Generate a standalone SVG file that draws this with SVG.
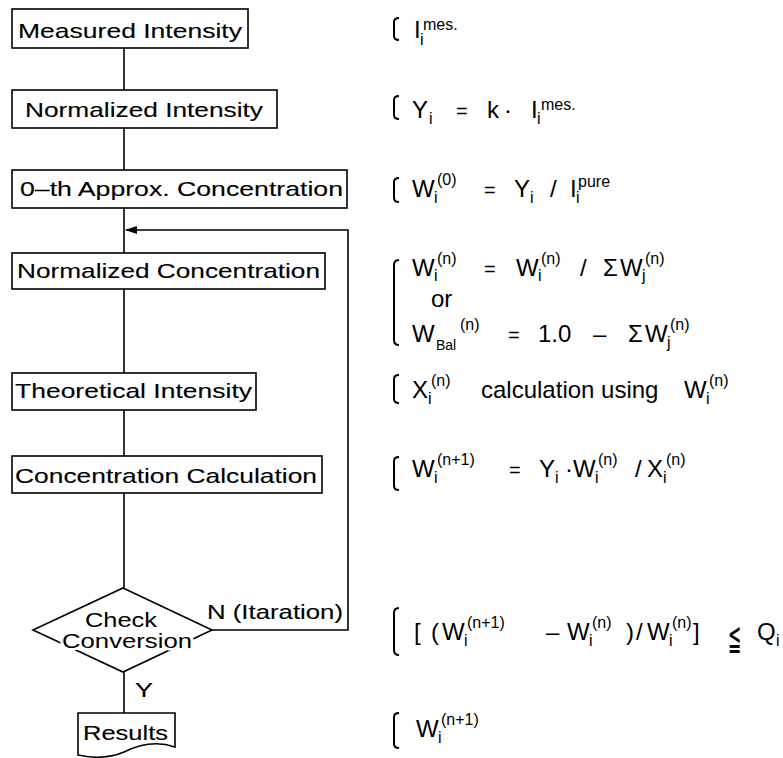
<svg xmlns="http://www.w3.org/2000/svg" width="783" height="758" viewBox="0 0 783 758">
<defs>
<style>
.box{fill:#fff;stroke:#000;stroke-width:1.6}
.ln{fill:none;stroke:#000;stroke-width:1.6}
.br{fill:none;stroke:#000;stroke-width:2}
.b{font-family:"Liberation Sans",Arial,sans-serif;font-size:21px;fill:#000;stroke:#000;stroke-width:0.12px}
.halo{paint-order:stroke;stroke:#fff;stroke-width:5px}
.m{font-family:"Liberation Sans",Arial,sans-serif;font-size:24px;fill:#000}
.s{font-size:16px}
.q{font-size:20px}
</style>
<marker id="arr" markerWidth="12" markerHeight="8" refX="11" refY="4" orient="auto" markerUnits="userSpaceOnUse">
<path d="M0,0 L12,4 L0,8 Z" fill="#000"/>
</marker>
</defs>
<rect width="783" height="758" fill="#fff"/>

<g id="connectors">
<path class="ln" d="M124,48 V90"/>
<path class="ln" d="M124,128 V170"/>
<path class="ln" d="M124,208 V253"/>
<path class="ln" d="M124,289 V373"/>
<path class="ln" d="M124,410 V456"/>
<path class="ln" d="M124,493 V588"/>
<path class="ln" d="M124,672 V713"/>
<path class="ln" d="M212,630 H348 V230 H126" marker-end="url(#arr)"/>
<text class="b" x="207" y="619" textLength="136" lengthAdjust="spacingAndGlyphs">N (Itaration)</text>
<text class="b" x="135" y="697" textLength="18" lengthAdjust="spacingAndGlyphs">Y</text>
</g>

<g id="measured-intensity">
<rect class="box" x="12" y="9" width="236" height="39"/>
<text class="b" x="18" y="38" textLength="224" lengthAdjust="spacingAndGlyphs">Measured Intensity</text>
</g>
<g id="normalized-intensity">
<rect class="box" x="12" y="90" width="265" height="38"/>
<text class="b" x="25" y="117" textLength="238" lengthAdjust="spacingAndGlyphs">Normalized Intensity</text>
</g>
<g id="approx-concentration">
<rect class="box" x="12" y="170" width="335" height="38"/>
<text class="b" x="20" y="196" textLength="323" lengthAdjust="spacingAndGlyphs">0–th Approx. Concentration</text>
</g>
<g id="normalized-concentration">
<rect class="box" x="12" y="253" width="313" height="36"/>
<text class="b" x="17" y="278" textLength="303" lengthAdjust="spacingAndGlyphs">Normalized Concentration</text>
</g>
<g id="theoretical-intensity">
<rect class="box" x="12" y="373" width="244" height="37"/>
<text class="b" x="15" y="398" textLength="237" lengthAdjust="spacingAndGlyphs">Theoretical Intensity</text>
</g>
<g id="concentration-calculation">
<rect class="box" x="12" y="456" width="310" height="37"/>
<text class="b" x="15" y="483" textLength="302" lengthAdjust="spacingAndGlyphs">Concentration Calculation</text>
</g>
<g id="check-conversion">
<path class="box" d="M123,588 L212,630 L123,672 L33,630 Z"/>
<text class="b halo" x="85" y="627" textLength="72" lengthAdjust="spacingAndGlyphs">Check</text>
<text class="b halo" x="62" y="648" textLength="130" lengthAdjust="spacingAndGlyphs">Conversion</text>
</g>
<g id="results">
<path class="box" d="M78,713 H175 V747 C158,741 140,744 124,752 C108,759 92,758 78,755 Z"/>
<text class="b" x="83" y="740" textLength="85" lengthAdjust="spacingAndGlyphs">Results</text>
</g>

<g id="formulas">
<path class="br" d="M399,18 Q394,18 394,22 V36 Q394,40 399,40"/>
<path class="br" d="M399,96 Q394,96 394,100 V115 Q394,119 399,119"/>
<path class="br" d="M399,178 Q394,178 394,182 V198 Q394,202 399,202"/>
<path class="br" d="M399,260 Q394,260 394,265 V340 Q394,345 399,345"/>
<path class="br" d="M399,375 Q394,375 394,379 V399 Q394,403 399,403"/>
<path class="br" d="M399,457 Q394,457 394,461 V486 Q394,490 399,490"/>
<path class="br" d="M399,608 Q394,608 394,613 V650 Q394,655 399,655"/>
<path class="br" d="M399,713 Q394,713 394,717 V744 Q394,748 399,748"/>

<text class="m"><tspan x="414" y="38">I</tspan><tspan class="s" x="420" y="45">i</tspan><tspan class="s" x="423" y="30">mes.</tspan></text>

<text class="m"><tspan x="412" y="118">Y</tspan><tspan class="s" x="429" y="124">i</tspan><tspan class="q" x="456" y="118">=</tspan><tspan x="487" y="118">k</tspan><tspan x="504" y="118">·</tspan><tspan x="531" y="118">I</tspan><tspan class="s" x="537" y="124">i</tspan><tspan class="s" x="541" y="110">mes.</tspan></text>

<text class="m"><tspan x="412" y="197">W</tspan><tspan class="s" x="434" y="203">i</tspan><tspan class="s" x="437" y="185">(0)</tspan><tspan class="q" x="484" y="197">=</tspan><tspan x="514" y="197">Y</tspan><tspan class="s" x="530" y="203">i</tspan><tspan x="550" y="197">/</tspan><tspan x="570" y="197">I</tspan><tspan class="s" x="576" y="203">i</tspan><tspan class="s" x="578" y="187">pure</tspan></text>

<text class="m"><tspan x="412" y="276">W</tspan><tspan class="s" x="434" y="281">i</tspan><tspan class="s" x="437" y="264">(n)</tspan><tspan class="q" x="484" y="276">=</tspan><tspan x="516" y="276">W</tspan><tspan class="s" x="538" y="281">i</tspan><tspan class="s" x="541" y="264">(n)</tspan><tspan x="580" y="276">/</tspan><tspan x="603" y="276">Σ</tspan><tspan x="620" y="276">W</tspan><tspan class="s" x="642" y="281">j</tspan><tspan class="s" x="645" y="264">(n)</tspan></text>

<text class="m" x="431" y="307">or</text>

<text class="m"><tspan x="412" y="342">W</tspan><tspan class="s" x="436" y="350" style="font-size:14px">Bal</tspan><tspan class="s" x="460" y="330">(n)</tspan><tspan class="q" x="508" y="342">=</tspan><tspan x="538" y="342">1.0</tspan><tspan x="593" y="342">–</tspan><tspan x="628" y="342">Σ</tspan><tspan x="645" y="342">W</tspan><tspan class="s" x="667" y="348">j</tspan><tspan class="s" x="670" y="330">(n)</tspan></text>

<text class="m"><tspan x="412" y="398">X</tspan><tspan class="s" x="428" y="404">i</tspan><tspan class="s" x="431" y="386">(n)</tspan><tspan x="481" y="398">calculation using</tspan><tspan x="684" y="398">W</tspan><tspan class="s" x="706" y="404">i</tspan><tspan class="s" x="709" y="386">(n)</tspan></text>

<text class="m"><tspan x="412" y="477">W</tspan><tspan class="s" x="434" y="483">i</tspan><tspan class="s" x="437" y="465">(n+1)</tspan><tspan class="q" x="509" y="477">=</tspan><tspan x="539" y="477">Y</tspan><tspan class="s" x="555" y="483">i</tspan><tspan x="565" y="477">·</tspan><tspan x="573" y="477">W</tspan><tspan class="s" x="595" y="483">i</tspan><tspan class="s" x="598" y="465">(n)</tspan><tspan x="635" y="477">/</tspan><tspan x="647" y="477">X</tspan><tspan class="s" x="663" y="483">i</tspan><tspan class="s" x="666" y="465">(n)</tspan></text>

<text class="m"><tspan x="414" y="640">[</tspan><tspan x="431" y="640">(</tspan><tspan x="442" y="640">W</tspan><tspan class="s" x="464" y="646">i</tspan><tspan class="s" x="467" y="628">(n+1)</tspan><tspan x="546" y="640">–</tspan><tspan x="567" y="640">W</tspan><tspan class="s" x="589" y="646">i</tspan><tspan class="s" x="592" y="628">(n)</tspan><tspan x="626" y="640">)</tspan><tspan x="636" y="640">/</tspan><tspan x="647" y="640">W</tspan><tspan class="s" x="669" y="646">i</tspan><tspan class="s" x="672" y="628">(n)</tspan><tspan x="693" y="640">]</tspan><tspan x="757" y="640">Q</tspan><tspan class="s" x="776" y="646">i</tspan></text>
<text transform="translate(728,650) scale(0.44,1)" style="font-family:'DejaVu Sans',sans-serif;font-size:36px">≦</text>

<text class="m"><tspan x="416" y="737">W</tspan><tspan class="s" x="438" y="743">i</tspan><tspan class="s" x="441" y="725">(n+1)</tspan></text>
</g>
</svg>
